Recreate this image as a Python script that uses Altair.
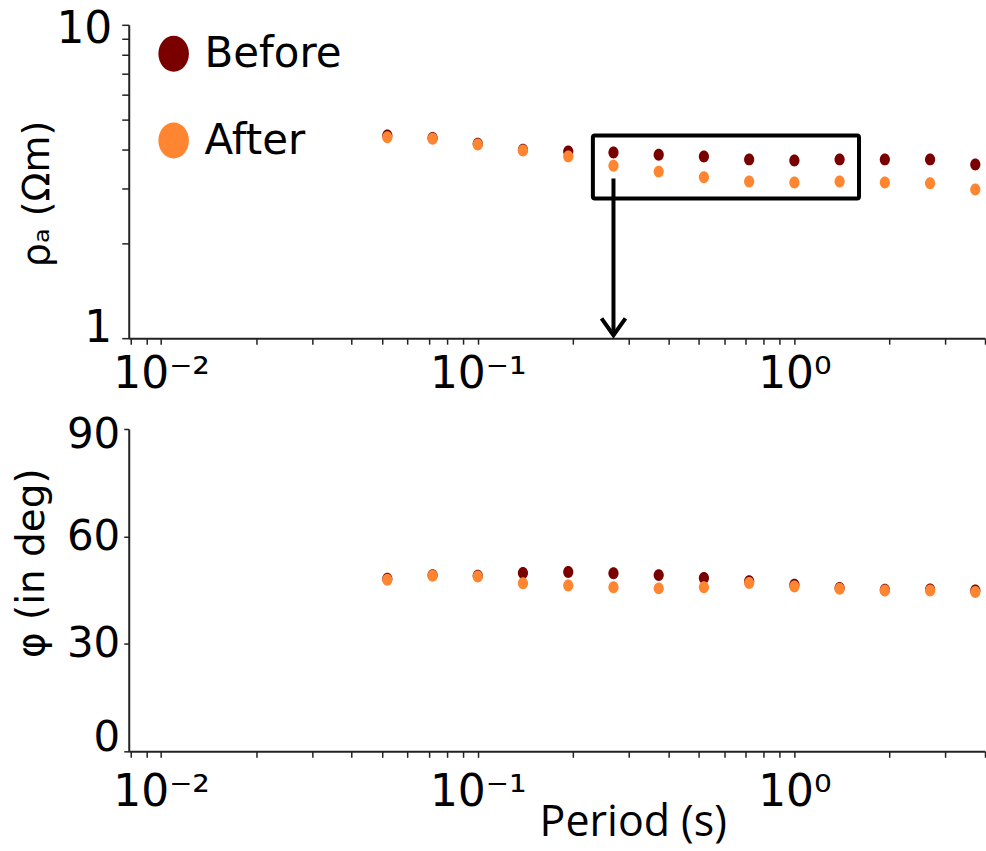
import altair as alt
import pandas as pd

# ---------------- data ----------------
periods = [0.0518, 0.0720, 0.1000, 0.1389, 0.1931, 0.2683, 0.3728,
           0.5179, 0.7197, 1.0000, 1.3895, 1.9307, 2.6827, 3.7276]
rho_before = [4.43, 4.35, 4.17, 3.99, 3.94, 3.91, 3.85,
              3.80, 3.72, 3.69, 3.72, 3.72, 3.72, 3.58]
rho_after = [4.38, 4.33, 4.15, 3.97, 3.80, 3.55, 3.40,
             3.26, 3.16, 3.14, 3.16, 3.14, 3.12, 2.98]
phase_before = [48.2, 49.2, 49.0, 49.8, 50.1, 49.7, 49.2,
                48.4, 47.5, 46.5, 45.6, 45.1, 45.2, 44.9]
phase_after = [47.9, 49.0, 48.8, 46.9, 46.3, 45.8, 45.5,
               45.8, 47.0, 46.0, 45.4, 44.9, 44.9, 44.5]
series_names = ["Before", "After"]
series_colors = ["#7a0000", "#ff8530"]

x_tick_values = [0.008, 0.009, 0.01, 0.02, 0.03, 0.04, 0.05, 0.06, 0.07, 0.08, 0.09,
                 0.1, 0.2, 0.3, 0.4, 0.5, 0.6, 0.7, 0.8, 0.9, 1, 2, 3, 4]
rho_tick_values = [1, 2, 3, 4, 5, 6, 7, 8, 9, 10]
phase_tick_values = [0, 30, 60, 90]

box_period = [0.231, 1.60]
box_rho = [2.79, 4.43]
arrow_period = [0.2683]
arrow_rho = [3.23, 1.022]

# ---------------- tables ----------------
rows = []
for name, rho, ph in [("Before", rho_before, phase_before), ("After", rho_after, phase_after)]:
    for p, r, f in zip(periods, rho, ph):
        rows.append({"period": p, "rho": r, "phase": f, "series": name})
df = pd.DataFrame(rows)

box_df = pd.DataFrame({"x": [box_period[0]], "x2": [box_period[1]],
                       "y": [box_rho[0]], "y2": [box_rho[1]]})
arrow_df = pd.DataFrame({"x": arrow_period, "y": [arrow_rho[0]], "y2": [arrow_rho[1]]})
head_df = pd.DataFrame({"x": arrow_period, "y": [arrow_rho[1]]})

FONT = "DejaVu Sans"
ELLIPSE = "M-0.85,0A0.85,1,0,1,0,0.85,0A0.85,1,0,1,0,-0.85,0Z"
label_expr = ("datum.value === 0.01 ? '10⁻²' : datum.value === 0.1 ? '10⁻¹' : "
              "datum.value === 1 ? '10⁰' : ''")

xscale = alt.Scale(type="log", domain=[0.0079, 4.0], nice=False)
color = alt.Color("series:N", scale=alt.Scale(domain=series_names, range=series_colors))

W = 858

# ---------------- top panel ----------------
x_top = alt.X("period:Q", scale=xscale,
              axis=alt.Axis(values=x_tick_values, labelExpr=label_expr, title=None,
                            labelFontSize=44, labelPadding=8, tickSize=6, labelFont=FONT,
                            labelOverlap=False, labelFlush=False))
y_top = alt.Y("rho:Q", scale=alt.Scale(type="log", domain=[1, 10], nice=False),
              axis=alt.Axis(values=rho_tick_values,
                            labelExpr="datum.value === 1 || datum.value === 10 ? datum.label : ''",
                            labelOffset={"condition": {"test": "datum.value === 10", "value": 5},
                                         "value": -10},
                            title="ρₐ (Ωm)", titleFontSize=38, titleFontWeight="normal",
                            titleX=-91, titleY=169, titleBaseline="middle", titleFont=FONT,
                            labelFontSize=44, labelPadding=10, tickSize=7, labelFont=FONT,
                            labelOverlap=False, labelFlush=False))

pts_top = alt.Chart(df).mark_point(filled=True, size=144, opacity=1, clip=False,
                                   shape=ELLIPSE).encode(
    x=x_top, y=y_top,
    color=color.legend(alt.Legend(title=None, orient="none", legendX=24, legendY=8,
                                  symbolSize=1296, symbolType=ELLIPSE, labelFontSize=42,
                                  labelFont=FONT, labelOffset=10, rowPadding=45,
                                  symbolOpacity=1)),
)
box = alt.Chart(box_df).mark_rect(fillOpacity=0, stroke="black", strokeWidth=4,
                                  cornerRadius=2).encode(
    x="x:Q", x2="x2:Q", y="y:Q", y2="y2:Q")
arrow = alt.Chart(arrow_df).mark_rule(color="black", strokeWidth=4).encode(
    x="x:Q", y="y:Q", y2="y2:Q")
head = alt.Chart(head_df).mark_point(shape="M-1,-1.4L0,0L1,-1.4", filled=False,
                                     stroke="black", strokeWidth=4, size=576,
                                     opacity=1).encode(x="x:Q", y="y:Q")

top = alt.layer(pts_top, box, arrow, head).properties(width=W, height=314)

# ---------------- bottom panel ----------------
x_bot = alt.X("period:Q", scale=xscale,
              axis=alt.Axis(values=x_tick_values, labelExpr=label_expr,
                            title="Period (s)", titleFontSize=43, titleFontWeight="normal",
                            titleFont="Open Sans", titleX=505, titleY=84,
                            titleBaseline="alphabetic",
                            labelFontSize=44, labelPadding=13, tickSize=6, labelFont=FONT,
                            labelOverlap=False, labelFlush=False))
y_bot = alt.Y("phase:Q", scale=alt.Scale(domain=[0, 90], nice=False),
              axis=alt.Axis(values=phase_tick_values, title="φ (in deg)",
                            labelOffset={"condition": [{"test": "datum.value === 90", "value": 6},
                                                       {"test": "datum.value === 0", "value": -14}],
                                         "value": 0},
                            titleFontSize=39, titleFontWeight="normal", titleFont=FONT,
                            titleX=-97, titleY=134, titleBaseline="middle",
                            labelFontSize=42, labelPadding=4, tickSize=5, labelFont=FONT,
                            labelOverlap=False, labelFlush=False))
bottom = alt.Chart(df).mark_point(filled=True, size=144, opacity=1, clip=False,
                                  shape=ELLIPSE).encode(
    x=x_bot, y=y_bot, color=color.legend(None)
).properties(width=W, height=323)

chart = alt.vconcat(top, bottom, spacing=91, bounds="flush").properties(
    padding={"left": 12, "top": 6, "right": 0, "bottom": 0}
).configure_view(stroke=None).configure_axis(
    domainColor="#222222", domainWidth=2, tickColor="#222222", tickWidth=1.5,
    labelColor="black", titleColor="black", grid=False
)

chart.save("out.html", embed_options={"renderer": "svg", "actions": False})
